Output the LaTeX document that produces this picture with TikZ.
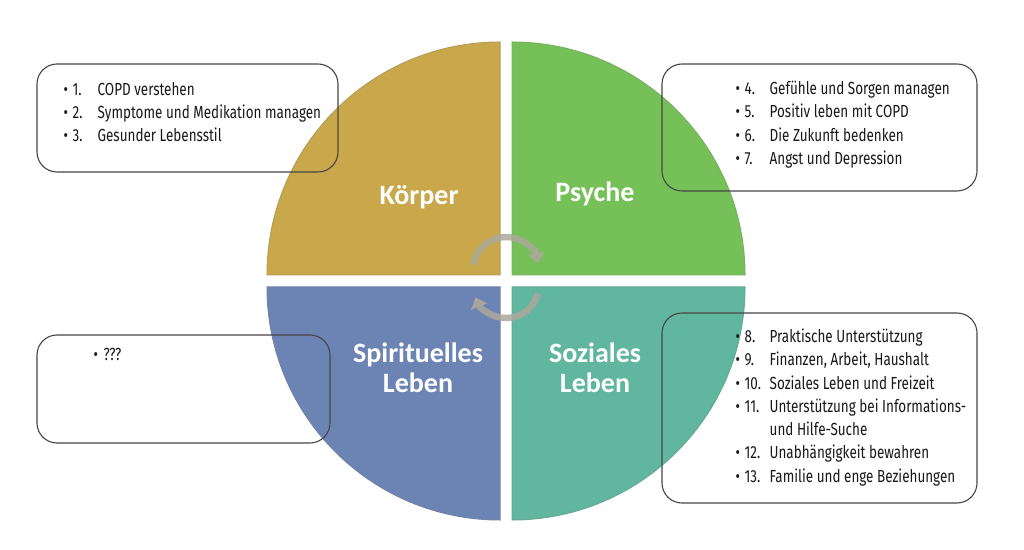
\documentclass[tikz,border=0pt]{standalone}
\usepackage{fontspec}
\setmainfont{Fira Sans}[FakeStretch=0.77]
\newfontfamily\headfont{Carlito}
\usetikzlibrary{arrows.meta,calc,positioning}

\definecolor{koerpercol}{RGB}{200,168,74}
\definecolor{psychecol}{RGB}{118,192,88}
\definecolor{spiritcol}{RGB}{108,132,180}
\definecolor{sozialcol}{RGB}{96,182,158}
\definecolor{cyclecol}{RGB}{172,168,156}
\definecolor{boxline}{RGB}{70,70,70}
\definecolor{listcol}{RGB}{25,25,25}

\newcommand{\itm}[2]{\textbullet & #1 & #2 \\}

\begin{document}
\begin{tikzpicture}[x=1pt, y=1pt,
    quadrant/.style={fill=#1, draw=#1!75!gray, line width=1pt},
    headlabel/.style={text=white, align=center,
      font=\headfont\bfseries\fontsize{28}{30}\selectfont},
    listbox/.style={draw=boxline, line width=1.1pt, rounded corners=20pt},
    listnode/.style={inner sep=0pt, text=listcol,
      font=\fontsize{17.5}{23.3}\selectfont},
    cycarrow/.style={draw=cyclecol, line width=6.5pt, opacity=0.85,
      -{Triangle[width=17pt,length=10pt]}}]
  \fill[white] (0,0) rectangle (1024,549);
  \useasboundingbox (0,0) rectangle (1024,549);

  % the four quarters
  \filldraw[quadrant=koerpercol] (500,274) -- (267,274)
    arc[start angle=180, end angle=90, radius=233] -- cycle;
  \filldraw[quadrant=psychecol] (512,274) -- (512,507)
    arc[start angle=90, end angle=0, radius=233] -- cycle;
  \filldraw[quadrant=spiritcol] (500,262) -- (267,262)
    arc[start angle=180, end angle=270, radius=233] -- cycle;
  \filldraw[quadrant=sozialcol] (512,262) -- (745,262)
    arc[start angle=0, end angle=-90, radius=233] -- cycle;

  \begin{scope}[every node/.style={headlabel}]
    \node (koerper) [anchor=base] at (419,344) {Körper};
    \node (psyche) [anchor=base] at (595,347) {Psyche};
    \node (spirit) at (418,181.5) {Spirituelles\\Leben};
    \node (sozial) at (595,181.5) {Soziales\\Leben};
  \end{scope}

  % cycle in the middle
  \coordinate (cycA) at ($(506,279)+(170:33)$);
  \coordinate (cycB) at ($(506,264)+(-15:33)$);
  \draw[cycarrow] (cycA) arc[start angle=170, end angle=12, radius=33];
  \draw[cycarrow] (cycB) arc[start angle=-15, end angle=-158, radius=33];

  % boxes
  \node (box1) [listbox, minimum width=301pt, minimum height=108pt] at (187.5,431) {};
  \node (box2) [listbox, minimum width=315pt, minimum height=127pt] at (819.5,421.5) {};
  \node (box3) [listbox, minimum width=315pt, minimum height=190pt] at (819.5,141) {};
  \node (box4) [listbox, minimum width=293pt, minimum height=108pt] at (183.5,160) {};

  \begin{scope}[every node/.style={listnode}]
    \node (list1) [below right=15.2pt and 27pt of box1.north west]
      {\begin{tabular}{@{}p{9pt}@{}p{25pt}@{}l@{}}
        \itm{1.}{COPD verstehen}
        \itm{2.}{Symptome und Medikation managen}
        \itm{3.}{Gesunder Lebensstil}
      \end{tabular}};
    \node (list2) [below right=14.5pt and 74pt of box2.north west]
      {\begin{tabular}{@{}p{9pt}@{}p{25pt}@{}l@{}}
        \itm{4.}{Gefühle und Sorgen managen}
        \itm{5.}{Positiv leben mit COPD}
        \itm{6.}{Die Zukunft bedenken}
        \itm{7.}{Angst und Depression}
      \end{tabular}};
    \node (list3) [below right=13.5pt and 74pt of box3.north west]
      {\begin{tabular}{@{}p{9pt}@{}p{25pt}@{}l@{}}
        \itm{8.}{Praktische Unterstützung}
        \itm{9.}{Finanzen, Arbeit, Haushalt}
        \itm{10.}{Soziales Leben und Freizeit}
        \itm{11.}{Unterstützung bei Informations-}
        & & und Hilfe-Suche \\
        \itm{12.}{Unabhängigkeit bewahren}
        \itm{13.}{Familie und enge Beziehungen}
      \end{tabular}};
    \node (list4) [below right=10pt and 57pt of box4.north west]
      {\begin{tabular}{@{}p{10pt}@{}l@{}}
        \textbullet & ??? \\
      \end{tabular}};
  \end{scope}
\end{tikzpicture}
\end{document}
